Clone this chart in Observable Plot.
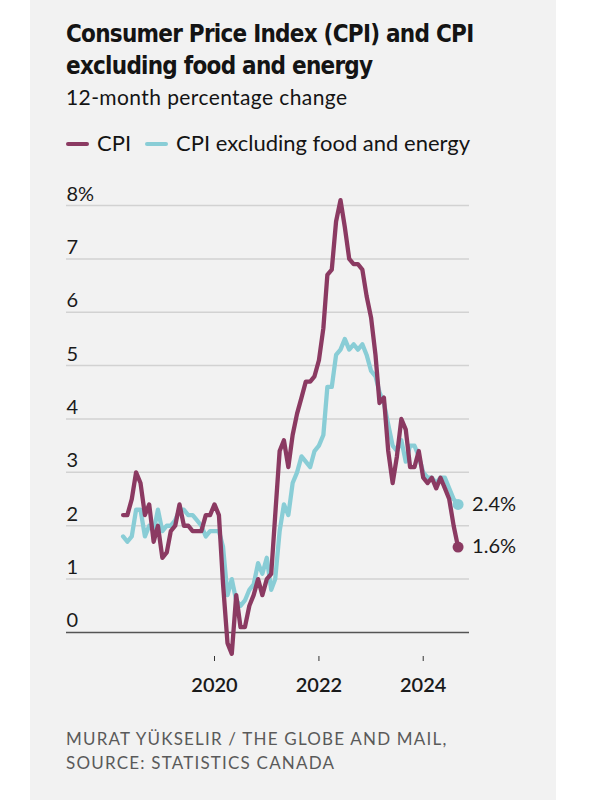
<!DOCTYPE html>
<html><head><meta charset="utf-8">
<script src="https://cdn.jsdelivr.net/npm/d3@7"></script>
<script src="https://cdn.jsdelivr.net/npm/@observablehq/plot@0.6"></script>
<style>
body{margin:0;background:#fff;width:590px;height:800px;overflow:hidden;position:relative;}
#panel{position:absolute;left:30px;top:0;width:526px;height:800px;background:#f2f2f2;}
.t{position:absolute;left:36px;white-space:nowrap;color:#141414;}
#title{top:18px;font:bold 24px/32px "Liberation Sans Narrow","DejaVu Sans Condensed",sans-serif;letter-spacing:-0.75px;}
#sub{top:85px;font:21px/24px Lato,sans-serif;letter-spacing:0.4px;}
#legend{top:131px;font:22px/24px Lato,sans-serif;}
.sw{display:inline-block;width:23px;height:4px;border-radius:2px;vertical-align:middle;margin-right:8px;position:relative;top:-1px;}
#chart{position:absolute;left:0;top:170px;}
#cap{top:727px;font:17px/24px Lato,sans-serif;letter-spacing:1.2px;color:#5a5a5a;}
</style></head>
<body>
<div id="panel">
  <div class="t" id="title">Consumer Price Index (CPI) and CPI<br>excluding food and energy</div>
  <div class="t" id="sub">12-month percentage change</div>
  <div class="t" id="legend"><span class="sw" style="background:#8b3a62"></span>CPI<span class="sw" style="background:#89cdd6;margin-left:14px"></span>CPI excluding food and energy</div>
  <div id="chart"></div>
  <div class="t" id="cap">MURAT YÜKSELIR / THE GLOBE AND MAIL,<br>SOURCE: STATISTICS CANADA</div>
</div>
<script>
// Monthly series, April 2018 to September 2024
const startMonth = "2018-04-01";
const cpi = [
  2.2, 2.2, 2.5, 3.0, 2.8, 2.2, 2.4, 1.7, 2.0,
  1.4, 1.5, 1.9, 2.0, 2.4, 2.0, 2.0, 1.9, 1.9, 1.9, 2.2, 2.2,
  2.4, 2.2, 0.9, -0.2, -0.4, 0.7, 0.1, 0.1, 0.5, 0.7, 1.0, 0.7,
  1.0, 1.1, 2.2, 3.4, 3.6, 3.1, 3.7, 4.1, 4.4, 4.7, 4.7, 4.8,
  5.1, 5.7, 6.7, 6.8, 7.7, 8.1, 7.6, 7.0, 6.9, 6.9, 6.8, 6.3,
  5.9, 5.2, 4.3, 4.4, 3.4, 2.8, 3.3, 4.0, 3.8, 3.1, 3.1, 3.4,
  2.9, 2.8, 2.9, 2.7, 2.9, 2.7, 2.5, 2.0, 1.6
];
const cpiExFoodEnergy = [
  1.8, 1.7, 1.8, 2.3, 2.3, 1.8, 2.0, 1.9, 2.3,
  1.9, 2.0, 2.0, 2.1, 2.3, 2.3, 2.2, 2.2, 2.1, 2.0, 1.8, 1.9,
  1.9, 1.9, 1.6, 0.7, 1.0, 0.6, 0.5, 0.6, 0.8, 0.9, 1.3, 1.1,
  1.4, 0.8, 1.0, 1.9, 2.4, 2.2, 2.8, 3.0, 3.3, 3.2, 3.1, 3.4,
  3.5, 3.7, 4.6, 4.6, 5.2, 5.3, 5.5, 5.3, 5.4, 5.3, 5.4, 5.2,
  4.9, 4.8, 4.5, 4.3, 3.9, 3.5, 3.4, 3.6, 3.2, 3.5, 3.5, 3.3,
  3.0, 2.9, 2.9, 2.8, 2.9, 2.9, 2.7, 2.5, 2.4
];
const yTicks = [0, 1, 2, 3, 4, 5, 6, 7, 8];
const xTickYears = ["2020-01-01", "2022-01-01", "2024-01-01"];
const seriesNames = ["CPI", "CPI excluding food and energy"];
const colors = {"CPI": "#8b3a62", "CPI excluding food and energy": "#89cdd6"};

const start = new Date(startMonth);
const rows = [];
cpiExFoodEnergy.forEach((v, i) => rows.push({series: seriesNames[1], date: d3.utcMonth.offset(start, i), value: v}));
cpi.forEach((v, i) => rows.push({series: seriesNames[0], date: d3.utcMonth.offset(start, i), value: v}));
const lasts = [seriesNames[1], seriesNames[0]].map(s => rows.filter(r => r.series === s).at(-1));

const chart = Plot.plot({
  width: 526, height: 535,
  marginLeft: 36, marginRight: 87, marginTop: 8, marginBottom: 49,
  style: {background: "transparent", color: "#1a1a1a", fontFamily: "Lato, sans-serif", overflow: "visible"},
  x: {type: "utc", domain: [new Date("2017-03-01"), new Date("2024-11-20")]},
  y: {domain: [-0.45, 8.506], axis: null},
  marks: [
    Plot.ruleY(yTicks.filter(d => d !== 0), {stroke: "#d2d2d2", strokeWidth: 1.5}),
    Plot.ruleY([0], {stroke: "#555", strokeWidth: 1.5}),
    Plot.text(yTicks, {frameAnchor: "left", y: d => d, text: d => d === 8 ? "8%" : String(d),
      textAnchor: "start", lineAnchor: "bottom", dy: -5, fontSize: 20, fill: "#1a1a1a"}),
    Plot.axisX({ticks: xTickYears.map(d => new Date(d)), tickFormat: d3.utcFormat("%Y"),
      tickSize: 5, tickPadding: 16, fontSize: 20, fontWeight: 600, stroke: "#333", label: null}),
    Plot.line(rows, {x: "date", y: "value", z: "series", stroke: d => colors[d.series],
      strokeWidth: 4.3, strokeLinejoin: "round", strokeLinecap: "round"}),
    Plot.dot(lasts, {x: "date", y: "value", r: 5.5, fill: d => colors[d.series]}),
    Plot.text(lasts, {x: "date", y: "value", text: d => d.value.toFixed(1) + "%", dx: 14,
      textAnchor: "start", fontSize: 20, fill: "#1a1a1a"})
  ]
});
document.getElementById("chart").appendChild(chart);
</script>
</body></html>
